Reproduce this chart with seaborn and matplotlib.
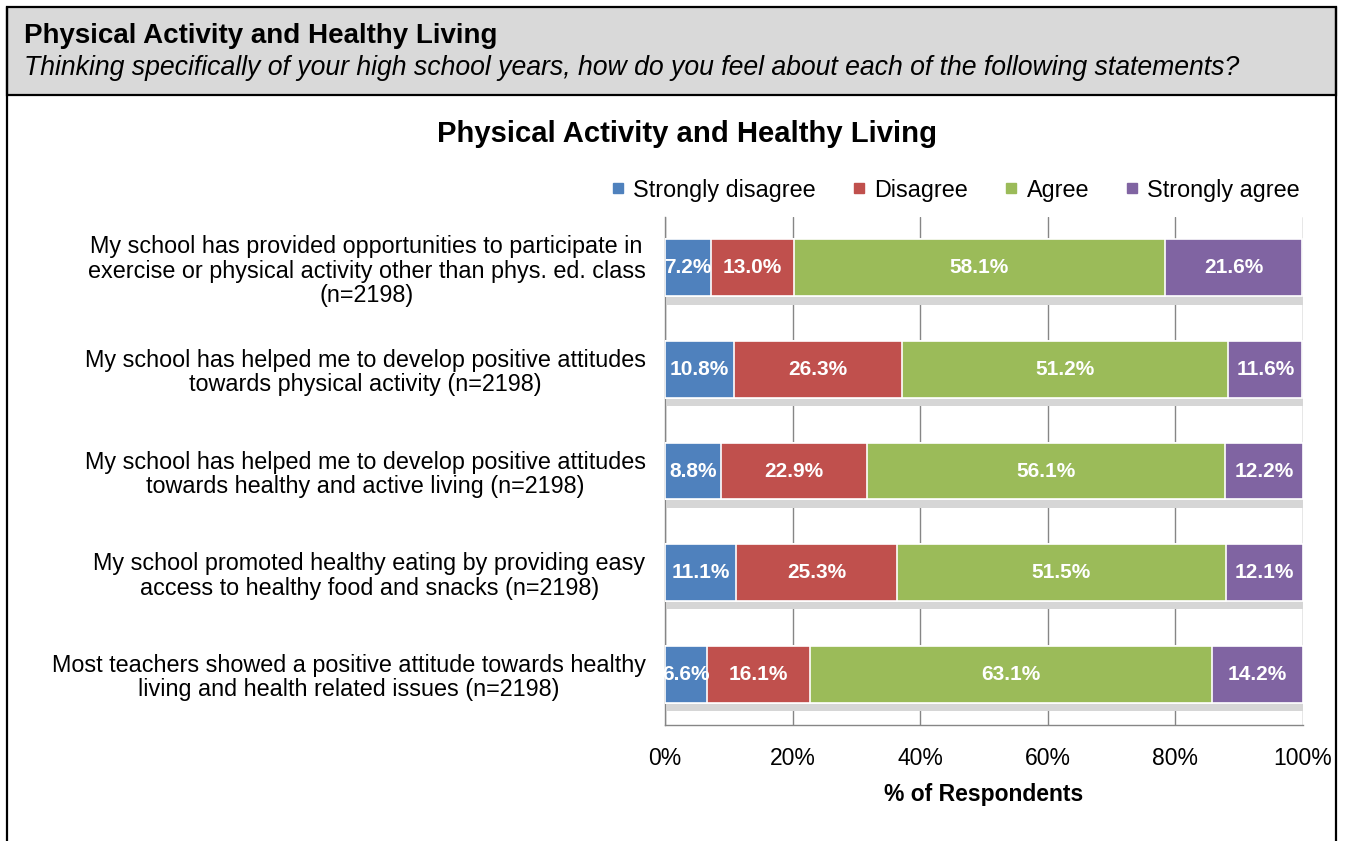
import numpy as np
import pandas as pd
import matplotlib
matplotlib.use("Agg")
import matplotlib.pyplot as plt
import matplotlib.patheffects as pe
from matplotlib.patches import Rectangle
from matplotlib.lines import Line2D
import seaborn as sns

categories = [
    "My school has provided opportunities to participate in\nexercise or physical activity other than phys. ed. class\n(n=2198)",
    "My school has helped me to develop positive attitudes\ntowards physical activity (n=2198)",
    "My school has helped me to develop positive attitudes\ntowards healthy and active living (n=2198)",
    "My school promoted healthy eating by providing easy\naccess to healthy food and snacks (n=2198)",
    "Most teachers showed a positive attitude towards healthy\nliving and health related issues (n=2198)",
]
series_names = ["Strongly disagree", "Disagree", "Agree", "Strongly agree"]
strongly_disagree = [7.2, 10.8, 8.8, 11.1, 6.6]
disagree = [13.0, 26.3, 22.9, 25.3, 16.1]
agree = [58.1, 51.2, 56.1, 51.5, 63.1]
strongly_agree = [21.6, 11.6, 12.2, 12.1, 14.2]
colors = ["#4F81BD", "#C0504D", "#9BBB59", "#8064A2"]
xticks = [0, 20, 40, 60, 80, 100]
xtick_labels = ["0%", "20%", "40%", "60%", "80%", "100%"]

sns.set_style("white")
plt.rcParams["font.family"] = ["Liberation Sans", "DejaVu Sans"]
plt.rcParams["text.color"] = "black"
plt.rcParams["axes.labelcolor"] = "black"
plt.rcParams["xtick.labelcolor"] = "black"
plt.rcParams["ytick.labelcolor"] = "black"

W, H = 1345, 841
fig = plt.figure(figsize=(W / 100, H / 100), dpi=100)

# header box and border
fig.patches.append(Rectangle((7 / W, 1 - 95 / H), (1336 - 7) / W, (95 - 7) / H,
                             transform=fig.transFigure, facecolor="#D9D9D9",
                             edgecolor="black", linewidth=1.6, zorder=0))
fig.lines.append(Line2D([7 / W, 7 / W], [0, 1 - 7 / H], transform=fig.transFigure, color="black", lw=1.6))
fig.lines.append(Line2D([1336 / W, 1336 / W], [0, 1 - 7 / H], transform=fig.transFigure, color="black", lw=1.6))
fig.text(24 / W, 1 - 36 / H, "Physical Activity and Healthy Living", fontsize=20,
         fontweight="bold", va="center", ha="left")
fig.text(24 / W, 1 - 68 / H,
         "Thinking specifically of your high school years, how do you feel about each of the following statements?",
         fontsize=19.2, style="italic", va="center", ha="left")

ax = fig.add_axes([665 / W, 1 - 725 / H, 638 / W, (725 - 217) / H])

vals = [strongly_disagree, disagree, agree, strongly_agree]
cum = np.cumsum(np.array(vals), axis=0)

for i in reversed(range(4)):
    sns.barplot(x=cum[i], y=categories, color=colors[i], orient="h", width=0.56,
                edgecolor="white", linewidth=1.2, ax=ax, saturation=1, zorder=3)
    if i == 3:
        for p in ax.patches:
            p.set_path_effects([pe.SimplePatchShadow(offset=(1.2, -6), shadow_rgbFace="#D6D6D6", alpha=1.0),
                                pe.Normal()])

for i in range(4):
    for j in range(len(categories)):
        center = cum[i][j] - vals[i][j] / 2
        ax.text(center, j, f"{vals[i][j]:.1f}%", ha="center", va="center",
                color="white", fontweight="bold", fontsize=15, zorder=5)

ax.set_xlim(0, 100)
ax.set_ylim(len(categories) - 0.5, -0.5)
ax.set_xticks(xticks)
ax.set_xticklabels(xtick_labels, fontsize=16.5)
ax.set_yticks(range(len(categories)))
ax.set_yticklabels(categories, fontsize=16.8, ha="right", multialignment="center", linespacing=1.08)
ax.set_yticks(np.arange(-0.5, len(categories), 1.0), minor=True)
ax.tick_params(axis="y", which="major", length=0, pad=14)
ax.tick_params(axis="y", which="minor", length=6, color="#868686", direction="out")
ax.tick_params(axis="x", which="major", length=6, color="#868686", direction="out", pad=10)
ax.set_ylabel("")
ax.set_xlabel("% of Respondents", fontsize=16.5, fontweight="bold", labelpad=9)
ax.grid(axis="x", color="#868686", linewidth=1.0, zorder=0)
ax.set_axisbelow(True)
for s in ["top", "right"]:
    ax.spines[s].set_visible(False)
for s in ["left", "bottom"]:
    ax.spines[s].set_color("#868686")
    ax.spines[s].set_linewidth(1.0)

fig.text(687 / W, 1 - 134 / H, "Physical Activity and Healthy Living", fontsize=21.1,
         fontweight="bold", ha="center", va="center")

handles = [Line2D([0], [0], marker="s", linestyle="", markersize=7, markerfacecolor=c,
                  markeredgecolor=c) for c in colors]
fig.legend(handles, series_names, ncol=4, frameon=False, fontsize=16.8,
           loc="center right", bbox_to_anchor=(1321 / W, 1 - 190 / H),
           handletextpad=0.3, columnspacing=1.5, handlelength=0.7)

fig.savefig("out.png", dpi=100)
